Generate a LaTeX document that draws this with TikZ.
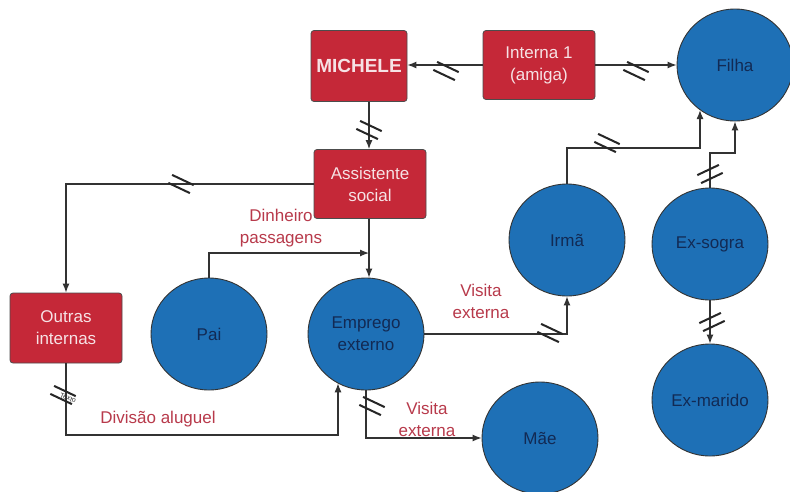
\documentclass[tikz,border=0pt]{standalone}
\usepackage{fontspec}
\setmainfont{Liberation Sans}
\usetikzlibrary{shapes.geometric,arrows.meta}
\definecolor{boxred}{RGB}{197,40,56}
\definecolor{boxtxt}{RGB}{246,226,229}
\definecolor{cblue}{RGB}{30,112,182}
\definecolor{ctxt}{RGB}{18,42,84}
\definecolor{lbl}{RGB}{184,58,75}
\definecolor{lnc}{RGB}{50,50,50}
\tikzset{
  box/.style={draw=black!70, line width=0.8pt, fill=boxred, rounded corners=3pt,
    text=boxtxt, align=center, inner sep=0pt, minimum width=112pt, minimum height=69pt,
    font=\fontsize{17}{22}\selectfont},
  circ/.style={ellipse, draw=black!80, line width=0.9pt, fill=cblue, text=ctxt,
    align=center, inner sep=0pt, minimum width=116pt, minimum height=112pt,
    font=\fontsize{17}{22}\selectfont},
  conn/.style={draw=lnc, line width=1.2pt, -{Latex[length=9pt,width=7pt]}},
  lab/.style={text=lbl, align=center, font=\fontsize{17}{22}\selectfont},
  mk/.style={draw=black!85, line width=2pt},
  pics/markd/.style={code={\draw[mk] (-8.9,-9.1)--(12.7,1.1); \draw[mk] (-12.7,-1.1)--(8.9,9.1);}},
  pics/marku/.style={code={\draw[mk] (-8.9,9.1)--(12.7,-1.1); \draw[mk] (-12.7,1.1)--(8.9,-9.1);}},
}
\begin{document}
\begin{tikzpicture}[x=1pt,y=-1pt]
\fill[white] (0,0) rectangle (790,491);
\useasboundingbox (0,0) rectangle (790,491);

% boxes
\node[box, minimum width=96pt, minimum height=71pt, font=\bfseries\fontsize{19}{22}\selectfont] (mich) at (359,66) {MICHELE};
\node[box] (int1) at (539,65) {Interna 1\\(amiga)};
\node[box] (asst) at (370,184) {Assistente\\social};
\node[box, minimum height=70pt] (outr) at (66,328) {Outras\\internas};

% circles
\node[circ] (filha) at (735,65) {Filha};
\node[circ] (irma) at (567,240) {Irmã};
\node[circ] (sogra) at (710,244) {Ex-sogra};
\node[circ] (marido) at (710,400) {Ex-marido};
\node[circ] (mae) at (540,438) {Mãe};
\node[circ] (pai) at (209,334) {Pai};
\node[circ] (emp) at (366,334) {Emprego\\externo};

% helper coordinates
\coordinate (jp) at (369,253);
\coordinate (dc) at (338,435);
\coordinate (c1) at (700,148);
\coordinate (c2) at (735,153);

% connectors
\draw[conn] (int1.west) -- (int1.west -| mich.east);
\draw[conn] (int1.east) -- (int1.east -| filha.west);
\draw[conn] (mich.south -| jp) -- (asst.north -| jp);
\draw[conn] (asst.west) -| (outr.north);
\draw[conn] (asst.south -| jp) -- (emp.north -| jp);
\draw[conn] (pai.north) |- (jp);
\draw[conn] (emp.east) -| (irma.south);
\draw[conn] (emp.south) |- (mae.west);
\draw[conn] (outr.south) |- (dc) -- (dc |- emp.240);
\draw[conn] (irma.north) |- (c1) -- (c1 |- filha.232);
\draw[conn] (sogra.north) |- (c2) -- (filha.south);
\draw[conn] (sogra.south) -- (marido.north);

% break marks
\pic at (446,71) {markd};
\pic at (636,71) {markd};
\pic at (369,130) {markd};
\pic at (181,184) {markd};
\pic at (607,143) {markd};
\pic at (710,174) {marku};
\pic at (550,333) {markd};
\pic at (712,322) {marku};
\pic at (372,406) {markd};
\pic at (63,395) {markd};
\node[font=\fontsize{7}{8}\selectfont, text=black!80, rotate=-20] (txto) at (68,398) {Texto};

% labels
\node[lab] (l1) at (281,228) {Dinheiro\\passagens};
\node[lab] (l2) at (481,301) {Visita\\externa};
\node[lab] (l3) at (427,419) {Visita\\externa};
\node[lab] (l4) at (158,419) {Divisão aluguel};
\end{tikzpicture}
\end{document}
